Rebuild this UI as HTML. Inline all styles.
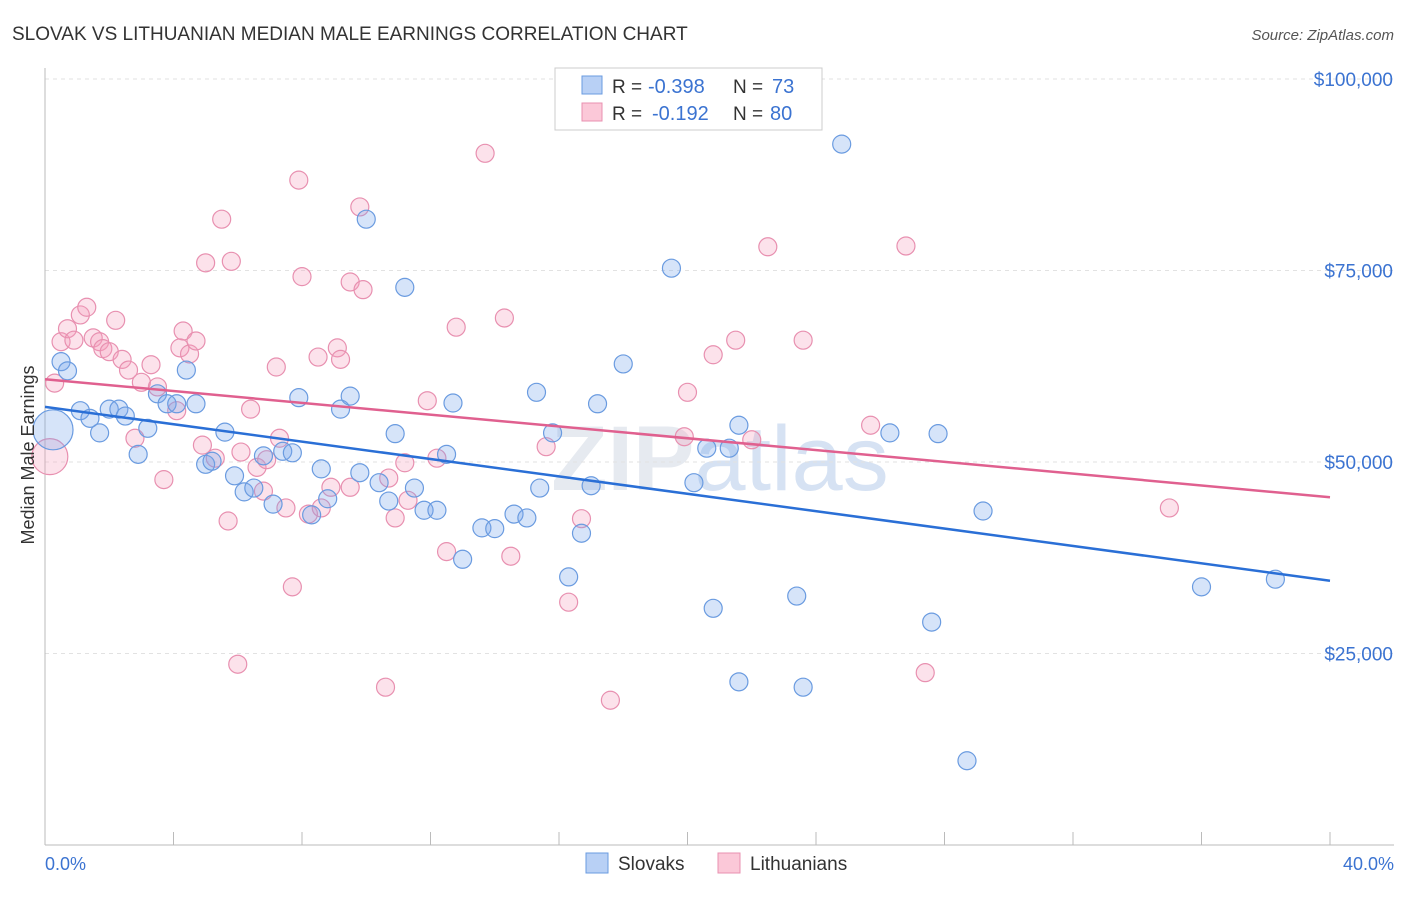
<!DOCTYPE html>
<html><head><meta charset="utf-8"><style>
body{margin:0;background:#fff;font-family:"Liberation Sans",sans-serif;}
svg text{font-family:"Liberation Sans",sans-serif;}
</style></head><body>
<svg id="chart" width="1406" height="892" viewBox="0 0 1406 892" xmlns="http://www.w3.org/2000/svg">
<text x="12" y="40" font-size="19" fill="#333">SLOVAK VS LITHUANIAN MEDIAN MALE EARNINGS CORRELATION CHART</text>
<text x="1394" y="40" font-size="15" fill="#555" font-style="italic" text-anchor="end">Source: ZipAtlas.com</text>
<text x="720" y="490" font-size="92" fill="#e6eaf0" text-anchor="middle" font-weight="bold">ZIP<tspan fill="#d6e2f3" font-weight="normal">atlas</tspan></text>
<g id="grid"></g>
<g id="axes"></g>
<g id="points"></g>
<g id="trends"></g>
<text transform="translate(34,455) rotate(-90)" font-size="18" fill="#333" text-anchor="middle">Median Male Earnings</text>
<text x="45" y="870" font-size="18" fill="#3b73d1">0.0%</text>
<text x="1394" y="870" font-size="18" fill="#3b73d1" text-anchor="end">40.0%</text>
<g>
<rect x="555" y="68" width="267" height="62" fill="#fff" stroke="#ccc"/>
<rect x="582" y="76" width="20" height="18" fill="#b8d0f5" stroke="#6a9be0"/>
<rect x="582" y="103" width="20" height="18" fill="#fbc8d8" stroke="#e890b0"/>
<text x="612" y="93" font-size="19" fill="#333">R =</text>
<text x="648" y="93" font-size="20" fill="#3b73d1">-0.398</text>
<text x="733" y="93" font-size="19" fill="#333">N =</text>
<text x="772" y="93" font-size="20" fill="#3b73d1">73</text>
<text x="612" y="120" font-size="19" fill="#333">R =</text>
<text x="652" y="120" font-size="20" fill="#3b73d1">-0.192</text>
<text x="733" y="120" font-size="19" fill="#333">N =</text>
<text x="770" y="120" font-size="20" fill="#3b73d1">80</text>
</g>
<g>
<rect x="586" y="853" width="22" height="20" fill="#b8d0f5" stroke="#6a9be0"/>
<text x="618" y="870" font-size="19" fill="#333">Slovaks</text>
<rect x="718" y="853" width="22" height="20" fill="#fbc8d8" stroke="#e890b0"/>
<text x="750" y="870" font-size="19" fill="#333">Lithuanians</text>
</g>
</svg>
<script>
const yTicks=[25000,50000,75000,100000];
const yTickLabels=["$25,000","$50,000","$75,000","$100,000"];
const slovakX=[0.25,0.5,0.7,1.1,1.4,1.7,2.0,2.3,2.5,2.9,3.2,3.5,3.8,4.1,4.4,4.7,5.0,5.2,5.6,5.9,6.2,6.5,6.8,7.1,7.4,7.7,7.9,8.3,8.6,8.8,9.2,9.5,9.8,10.0,10.4,10.7,10.9,11.2,11.5,11.8,12.2,12.5,12.7,13.0,13.6,14.0,14.6,15.0,15.3,15.4,15.8,16.3,16.7,17.0,17.2,18.0,19.5,20.2,20.6,20.8,21.3,21.6,21.6,23.4,23.6,24.8,26.3,27.6,27.8,28.7,29.2,36.0,38.3];
const slovakY=[54.2,63.1,61.9,56.7,55.7,53.8,56.9,56.9,56.0,51.0,54.4,58.9,57.6,57.6,62.0,57.6,49.7,50.1,53.9,48.2,46.1,46.6,50.8,44.5,51.4,51.2,58.4,43.1,49.1,45.2,56.9,58.6,48.6,81.7,47.3,44.9,53.7,72.8,46.6,43.7,43.7,51.0,57.7,37.3,41.4,41.3,43.2,42.7,59.1,46.6,53.8,35.0,40.7,46.9,57.6,62.8,75.3,47.3,51.8,30.9,51.8,54.8,21.3,32.5,20.6,91.5,53.8,29.1,53.7,11.0,43.6,33.7,34.7];
const lithX=[0.15,0.3,0.5,0.7,0.9,1.1,1.3,1.5,1.7,1.8,2.0,2.2,2.4,2.6,2.8,3.0,3.3,3.5,3.7,4.1,4.2,4.3,4.5,4.7,4.9,5.0,5.3,5.5,5.7,5.8,6.0,6.1,6.4,6.6,6.8,6.9,7.2,7.3,7.5,7.7,7.9,8.0,8.2,8.5,8.6,8.9,9.1,9.2,9.5,9.5,9.8,9.9,10.6,10.7,10.9,11.2,11.3,11.9,12.2,12.5,12.8,13.7,14.3,14.5,15.6,16.3,16.7,17.6,19.9,20.0,20.8,21.5,22.0,22.5,23.6,25.7,26.8,27.4,35.0];
const lithY=[50.7,60.3,65.7,67.4,65.9,69.2,70.2,66.2,65.7,64.8,64.4,68.5,63.4,62.0,53.1,60.4,62.7,59.8,47.7,56.7,64.9,67.1,64.1,65.8,52.2,76.0,50.5,81.7,42.3,76.2,23.6,51.3,56.9,49.3,46.2,50.3,62.4,53.1,44.0,33.7,86.8,74.2,43.2,63.7,44.0,46.7,64.9,63.4,46.7,73.5,83.3,72.5,20.6,47.9,42.7,49.9,45.0,58.0,50.5,38.3,67.6,90.3,68.8,37.7,52.0,31.7,42.6,18.9,53.3,59.1,64.0,65.9,52.9,78.1,65.9,54.8,78.2,22.5,44.0];
const slovakTrend=[57.2,34.5];
const lithTrend=[60.8,45.4];
const trendX=[0,40];

const NS="http://www.w3.org/2000/svg";
const xs=p=>45+p*32.125;
const ys=v=>845-v*7.66/1000;
function mk(tag,attrs,parent){const e=document.createElementNS(NS,tag);for(const k in attrs)e.setAttribute(k,attrs[k]);parent.appendChild(e);return e;}
const grid=document.getElementById('grid'),axes=document.getElementById('axes'),pts=document.getElementById('points'),tr=document.getElementById('trends');
yTicks.forEach((t,i)=>{
  const l=mk('line',{x1:45,x2:1394,y1:ys(t),y2:ys(t),stroke:'#e2e2e2','stroke-dasharray':'4,4'},grid);
  
  
  const tx=mk('text',{x:1393,y:ys(t)+7,'font-size':19,fill:'#3b73d1','text-anchor':'end'},axes);
  tx.textContent=yTickLabels[i];
  
  
});
const topGrid=mk('line',{x1:45,x2:1394,y1:79,y2:79,stroke:'#e2e2e2','stroke-dasharray':'4,4'},grid);


const ya=mk('line',{x1:45,x2:45,y1:68,y2:845,stroke:'#bbb'},axes);


const xa=mk('line',{x1:45,x2:1394,y1:845,y2:845,stroke:'#bbb'},axes);


for(let i=0;i<=10;i++){
  const t=mk('line',{x1:xs(i*4),x2:xs(i*4),y1:832,y2:845,stroke:'#bbb'},axes);
  
  
}
function drawPts(X,Y,fill,stroke,name){
  X.forEach((x,i)=>{
    const r=i===0?(name==='slovak-point'?20:18):9;
    const c=mk('circle',{cx:xs(x),cy:ys(Y[i]*1000),r:r,fill:fill,stroke:stroke,'stroke-width':1.2},pts);
    
    
  });
}
drawPts(lithX,lithY,'rgba(245,160,190,0.3)','#e890b0','lithuanian-point');
drawPts(slovakX,slovakY,'rgba(120,165,235,0.3)','#6a9be0','slovak-point');
const l1=mk('line',{x1:xs(trendX[0]),x2:xs(trendX[1]),y1:ys(lithTrend[0]*1000),y2:ys(lithTrend[1]*1000),stroke:'#e0608f','stroke-width':2.5},tr);


const l2=mk('line',{x1:xs(trendX[0]),x2:xs(trendX[1]),y1:ys(slovakTrend[0]*1000),y2:ys(slovakTrend[1]*1000),stroke:'#2a6fd6','stroke-width':2.5},tr);


</script>
</body></html>
